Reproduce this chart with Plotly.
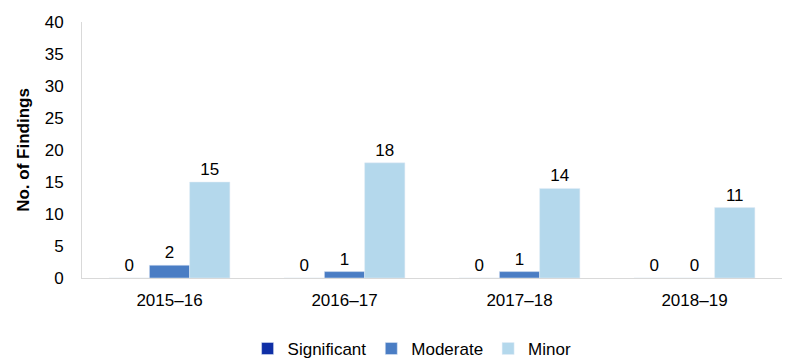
import plotly.graph_objects as go

categories = ["2015–16", "2016–17", "2017–18", "2018–19"]
significant = [0, 0, 0, 0]
moderate = [2, 1, 1, 0]
minor = [15, 18, 14, 11]
y_ticks = [0, 5, 10, 15, 20, 25, 30, 35, 40]

series = [
    ("Significant", significant, "#0f2fa6"),
    ("Moderate", moderate, "#4a7dc4"),
    ("Minor", minor, "#b4d8ec"),
]

fig = go.Figure()
for name, vals, color in series:
    fig.add_trace(go.Bar(
        name=name, x=categories, y=vals, marker_color=color,
        text=[str(v) for v in vals], textposition="outside",
        textfont=dict(size=17, color="#000000"), cliponaxis=False,
    ))

fig.update_layout(
    barmode="group", bargap=0.31, bargroupgap=0,
    width=808, height=362,
    margin=dict(l=82, r=26, t=22, b=84, autoexpand=False),
    plot_bgcolor="white", paper_bgcolor="white",
    font=dict(family="Liberation Sans, Arial, sans-serif", size=17, color="#000000"),
    showlegend=True,
    legend=dict(orientation="h", x=0.51, xanchor="center", xref="container",
                y=0.036, yanchor="middle", yref="container",
                font=dict(size=17), itemwidth=30, traceorder="normal"),
    yaxis=dict(range=[0, 40], tickvals=y_ticks, showgrid=False, showline=True,
               linecolor="#d9d9d9", linewidth=1, ticks="", zeroline=False,
               automargin=False, ticklabelstandoff=14,
               title=dict(text="<b>No. of Findings</b>", font=dict(size=17), standoff=10)),
    xaxis=dict(showline=True, linecolor="#d9d9d9", linewidth=1, ticks="",
               automargin=False, tickfont=dict(size=17), ticklabelstandoff=7),
)

fig.write_html("out.html", config={"displayModeBar": False},
               post_script="document.body.style.margin='0';document.body.style.overflow='hidden';")
